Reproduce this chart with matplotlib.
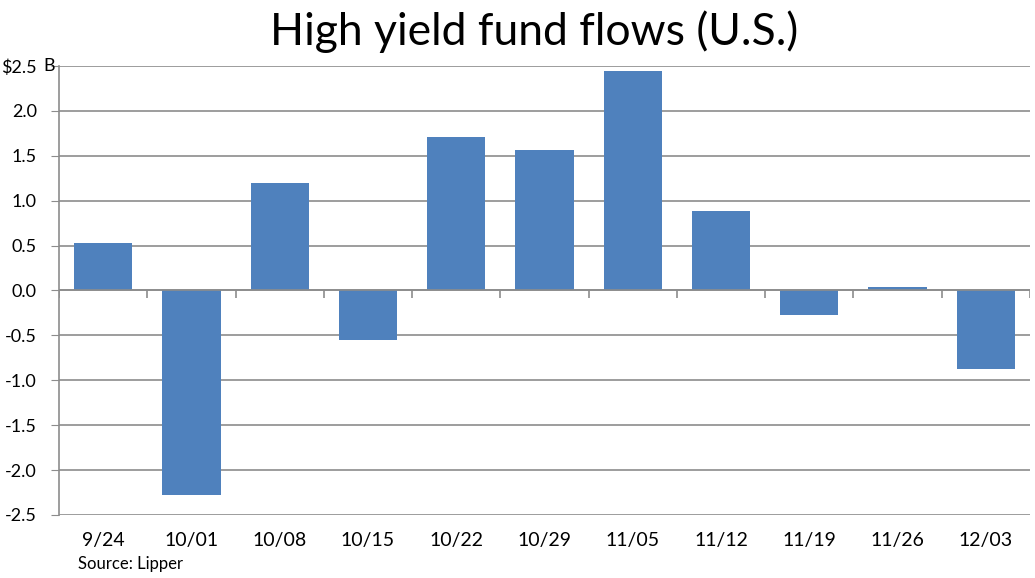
import matplotlib.pyplot as plt

# Данные: недельные потоки (млрд $)
weeks = ["9/24", "10/01", "10/08", "10/15", "10/22", "10/29",
         "11/05", "11/12", "11/19", "11/26", "12/03"]
flows = [0.53, -2.28, 1.20, -0.55, 1.71, 1.56, 2.44, 0.885, -0.27, 0.04, -0.87]
yticks = [-2.5, -2.0, -1.5, -1.0, -0.5, 0.0, 0.5, 1.0, 1.5, 2.0, 2.5]
ylabels = ["-2.5", "-2.0", "-1.5", "-1.0", "-0.5", "0.0", "0.5", "1.0", "1.5", "2.0", "$2.5"]

plt.rcParams['font.family'] = ['Lato', 'DejaVu Sans']

fig = plt.figure(figsize=(10.35, 5.78), dpi=100)
ax = fig.add_axes([0.057, 0.109, 0.938, 0.777])

x = list(range(len(weeks)))
ax.bar(x, flows, width=0.66, color="#4F81BD", zorder=3)

ax.set_xlim(-0.5, len(weeks) - 0.5)
ax.set_ylim(-2.5, 2.5)
ax.set_yticks(yticks)
ax.set_yticklabels(ylabels, fontsize=13)
ax.yaxis.grid(True, color="#8c8c8c", linewidth=1.2, zorder=0)
ax.tick_params(axis='y', length=6, color="#8c8c8c", pad=10)

# "B" после верхней подписи, как в оригинале
ax.text(-0.0165, 2.5, "B", transform=ax.get_yaxis_transform(), ha='left', va='center', fontsize=13)

ax.set_xticks(x)
ax.set_xticklabels(weeks, fontsize=14)
ax.tick_params(axis='x', length=0, pad=12)

# ось у нуля с засечками между категориями
ax.axhline(0, color="#8c8c8c", linewidth=1.2, zorder=4)
bounds = [i + 0.5 for i in range(-1, len(weeks))]
ax.vlines(bounds, -0.08, 0, color="#8c8c8c", linewidth=1.2, zorder=4)

for s in ['top', 'right', 'bottom']:
    ax.spines[s].set_visible(False)
ax.spines['left'].set_color("#8c8c8c")
ax.spines['left'].set_linewidth(1.2)

fig.text(0.516, 0.945, "High yield fund flows (U.S.)", ha='center', va='center', fontsize=32)
fig.text(0.075, 0.025, "Source: Lipper", ha='left', va='center', fontsize=12)

plt.savefig("out.png", dpi=100)
